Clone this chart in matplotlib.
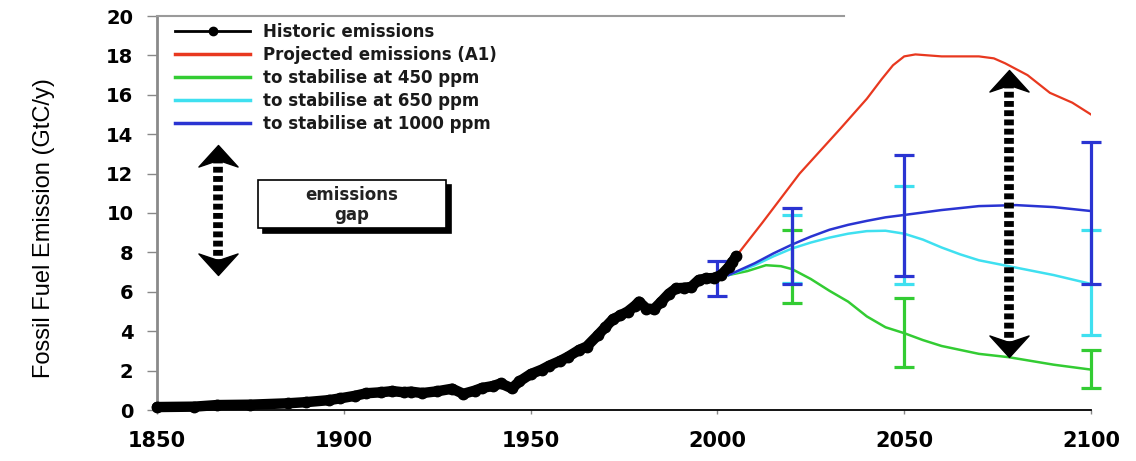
import matplotlib
matplotlib.use("Agg")
import matplotlib.pyplot as plt
from matplotlib.lines import Line2D
from matplotlib.path import Path
from matplotlib.patches import Rectangle
from matplotlib.transforms import ScaledTranslation

# ---------------- data ----------------
hist_years = [1850, 1860, 1866, 1875, 1885, 1890, 1896, 1899, 1903, 1906, 1910, 1913,
              1916, 1918, 1921, 1925, 1929, 1932, 1935, 1937, 1940, 1942, 1945, 1947,
              1950, 1953, 1955, 1958, 1960, 1963, 1965, 1968, 1970, 1972, 1974, 1976,
              1978, 1979, 1981, 1983, 1985, 1987, 1989, 1991, 1993, 1995, 1997, 1999,
              2001, 2003, 2004, 2005]
hist_vals = [0.15, 0.17, 0.25, 0.27, 0.34, 0.40, 0.50, 0.59, 0.72, 0.85, 0.90, 0.96,
             0.90, 0.93, 0.86, 0.95, 1.08, 0.82, 0.98, 1.12, 1.22, 1.35, 1.10, 1.45,
             1.82, 2.05, 2.25, 2.50, 2.70, 3.05, 3.22, 3.80, 4.20, 4.60, 4.80, 5.00,
             5.30, 5.50, 5.15, 5.12, 5.50, 5.90, 6.18, 6.20, 6.25, 6.60, 6.68, 6.70,
             6.85, 7.25, 7.50, 7.80]

a1_years = [2005, 2012, 2022, 2033, 2040, 2044, 2047, 2050, 2053, 2060, 2070, 2074, 2077, 2083, 2089, 2095, 2100]
a1_vals = [7.8, 9.5, 12.0, 14.3, 15.8, 16.8, 17.5, 17.95, 18.05, 17.95, 17.95, 17.85, 17.6, 17.0, 16.1, 15.6, 15.0]

s450_years = [2003, 2008, 2013, 2017, 2020, 2025, 2030, 2035, 2040, 2045, 2050, 2055, 2060, 2070, 2078, 2090, 2100]
s450_vals = [6.85, 7.05, 7.35, 7.3, 7.15, 6.65, 6.05, 5.5, 4.75, 4.2, 3.9, 3.55, 3.25, 2.85, 2.68, 2.3, 2.05]

s650_years = [2003, 2010, 2015, 2020, 2025, 2030, 2035, 2040, 2045, 2050, 2055, 2060, 2065, 2070, 2078, 2090, 2100]
s650_vals = [6.85, 7.35, 7.8, 8.2, 8.5, 8.75, 8.95, 9.08, 9.1, 8.95, 8.65, 8.25, 7.9, 7.6, 7.3, 6.85, 6.4]

s1000_years = [2003, 2010, 2015, 2020, 2025, 2030, 2035, 2040, 2045, 2050, 2060, 2070, 2080, 2090, 2100]
s1000_vals = [6.85, 7.45, 7.95, 8.4, 8.8, 9.15, 9.4, 9.6, 9.78, 9.9, 10.15, 10.35, 10.4, 10.3, 10.1]

err1000_years = [2000, 2020, 2050, 2100]
err1000_lo = [5.8, 6.4, 6.8, 6.4]
err1000_hi = [7.55, 10.25, 12.95, 13.6]

err650_years = [2020, 2050, 2100]
err650_lo = [6.45, 6.4, 3.8]
err650_hi = [9.9, 11.35, 9.15]

err450_years = [2020, 2050, 2100]
err450_lo = [5.42, 2.2, 1.1]
err450_hi = [9.14, 5.67, 3.05]

legend_labels = ["Historic emissions", "Projected emissions (A1)",
                 "to stabilise at 450 ppm", "to stabilise at 650 ppm",
                 "to stabilise at 1000 ppm"]
ylabel = "Fossil Fuel Emission (GtC/y)"
gap_label = "emissions\ngap"
gap_box = [1877.0, 9.23, 1927.4, 11.68]      # x0, y0, x1, y1
arrow_left = [1866.3, 6.85, 13.45]           # x, bottom tip, top tip
arrow_right = [2078.0, 2.7, 17.26]

xticks = [1850, 1900, 1950, 2000, 2050, 2100]
yticks = [0, 2, 4, 6, 8, 10, 12, 14, 16, 18, 20]

# ---------------- style ----------------
c_red = "#e8381f"
c_green = "#33cc33"
c_cyan = "#3fe0f0"
c_blue = "#2a34d2"

plt.rcParams["font.family"] = ["DejaVu Sans"]

fig = plt.figure(figsize=(11.36, 4.61), dpi=100)
ax = fig.add_axes([157 / 1136, 1 - 410 / 461, 934 / 1136, 394 / 461])
ax.set_xlim(1850, 2100)
ax.set_ylim(0, 20)

# projection curves
ax.plot(a1_years, a1_vals, color=c_red, lw=1.6, zorder=3, solid_joinstyle="round")
ax.plot(s450_years, s450_vals, color=c_green, lw=1.8, zorder=3, solid_joinstyle="round")
ax.plot(s650_years, s650_vals, color=c_cyan, lw=1.8, zorder=3, solid_joinstyle="round")
ax.plot(s1000_years, s1000_vals, color=c_blue, lw=1.8, zorder=3, solid_joinstyle="round")

# uncertainty bars
def bars(xs, lo, hi, color, z):
    cont = ax.errorbar(xs, lo, yerr=[[0] * len(lo), [h - l for h, l in zip(hi, lo)]],
                       fmt="none", ecolor=color, elinewidth=2.3, capsize=7.5,
                       capthick=2.3, zorder=z)
    for art in cont.lines[1]:
        art.set_clip_on(False)
    for art in cont.lines[2]:
        art.set_clip_on(False)

bars(err450_years, err450_lo, err450_hi, c_green, 4)
bars(err650_years, err650_lo, err650_hi, c_cyan, 4.1)
bars(err1000_years, err1000_lo, err1000_hi, c_blue, 4.2)

# historic
ax.plot(hist_years, hist_vals, color="black", lw=7.5, marker="o", ms=7.5,
        solid_joinstyle="round", solid_capstyle="round", zorder=5, clip_on=False)

# dotted double arrows
up_head = Path([(0, 0), (0.5, -0.55), (0, -0.38), (-0.5, -0.55), (0, 0)],
               [Path.MOVETO, Path.LINETO, Path.LINETO, Path.LINETO, Path.CLOSEPOLY])
down_head = Path([(0, 0), (0.5, 0.55), (0, 0.38), (-0.5, 0.55), (0, 0)],
                 [Path.MOVETO, Path.LINETO, Path.LINETO, Path.LINETO, Path.CLOSEPOLY])
for xa, yb, yt in (arrow_left, arrow_right):
    ax.plot([xa, xa], [yb + 0.5, yt - 0.5], color="black", lw=7,
            ls=(0, (0.6, 0.35)), dash_capstyle="butt", zorder=6)
    ax.plot([xa], [yt], marker=up_head, ms=31, color="black", ls="none", zorder=7)
    ax.plot([xa], [yb], marker=down_head, ms=31, color="black", ls="none", zorder=7)

# emissions gap box with drop shadow
gx0, gy0, gx1, gy1 = gap_box
shadow_tr = ax.transData + ScaledTranslation(3.5 / 72, -3.5 / 72, fig.dpi_scale_trans)
ax.add_patch(Rectangle((gx0, gy0), gx1 - gx0, gy1 - gy0, facecolor="black",
                       edgecolor="black", lw=1.2, transform=shadow_tr, zorder=6))
ax.add_patch(Rectangle((gx0, gy0), gx1 - gx0, gy1 - gy0, facecolor="white",
                       edgecolor="black", lw=1.2, zorder=6.5))
ax.text((gx0 + gx1) / 2, (gy0 + gy1) / 2 - 0.05, gap_label, ha="center", va="center",
        fontsize=12, fontweight="bold", color="#222222", linespacing=1.15, zorder=7)

# legend
handles = [
    Line2D([], [], color="black", lw=2, marker="o", ms=6),
    Line2D([], [], color=c_red, lw=2.5),
    Line2D([], [], color=c_green, lw=2.5),
    Line2D([], [], color=c_cyan, lw=2.5),
    Line2D([], [], color=c_blue, lw=2.5),
]
leg = ax.legend(handles, legend_labels, loc="upper left",
                bbox_to_anchor=(0.0193, 0.982), frameon=False, borderpad=0,
                borderaxespad=0, handlelength=4.5, handletextpad=0.75,
                labelspacing=0.3, prop={"family": "DejaVu Sans", "weight": "bold", "size": 12})
for t in leg.get_texts():
    t.set_color("#1a1a1a")

# axes styling
ax.spines["right"].set_visible(False)
ax.spines["top"].set_bounds(1850, 2034)
ax.spines["top"].set_color("#9a9a9a")
ax.spines["top"].set_linewidth(1.5)
ax.spines["left"].set_color("#8a8a8a")
ax.spines["left"].set_linewidth(2)
ax.spines["bottom"].set_color("black")
ax.spines["bottom"].set_linewidth(1.3)

ax.set_xticks(xticks, labels=[str(v) for v in xticks], fontsize=15, fontweight="bold")
ax.set_yticks(yticks, labels=[str(v) for v in yticks], fontsize=14, fontweight="bold")
ax.tick_params(axis="y", direction="out", length=7, width=1, color="#888888", pad=10)
ax.tick_params(axis="x", direction="out", length=3, width=1, color="#888888", pad=12)

ax.set_ylabel(ylabel, family="Liberation Sans", fontsize=17)
ax.yaxis.set_label_coords(-0.109, 0.463)

fig.savefig("out.png", dpi=100)
